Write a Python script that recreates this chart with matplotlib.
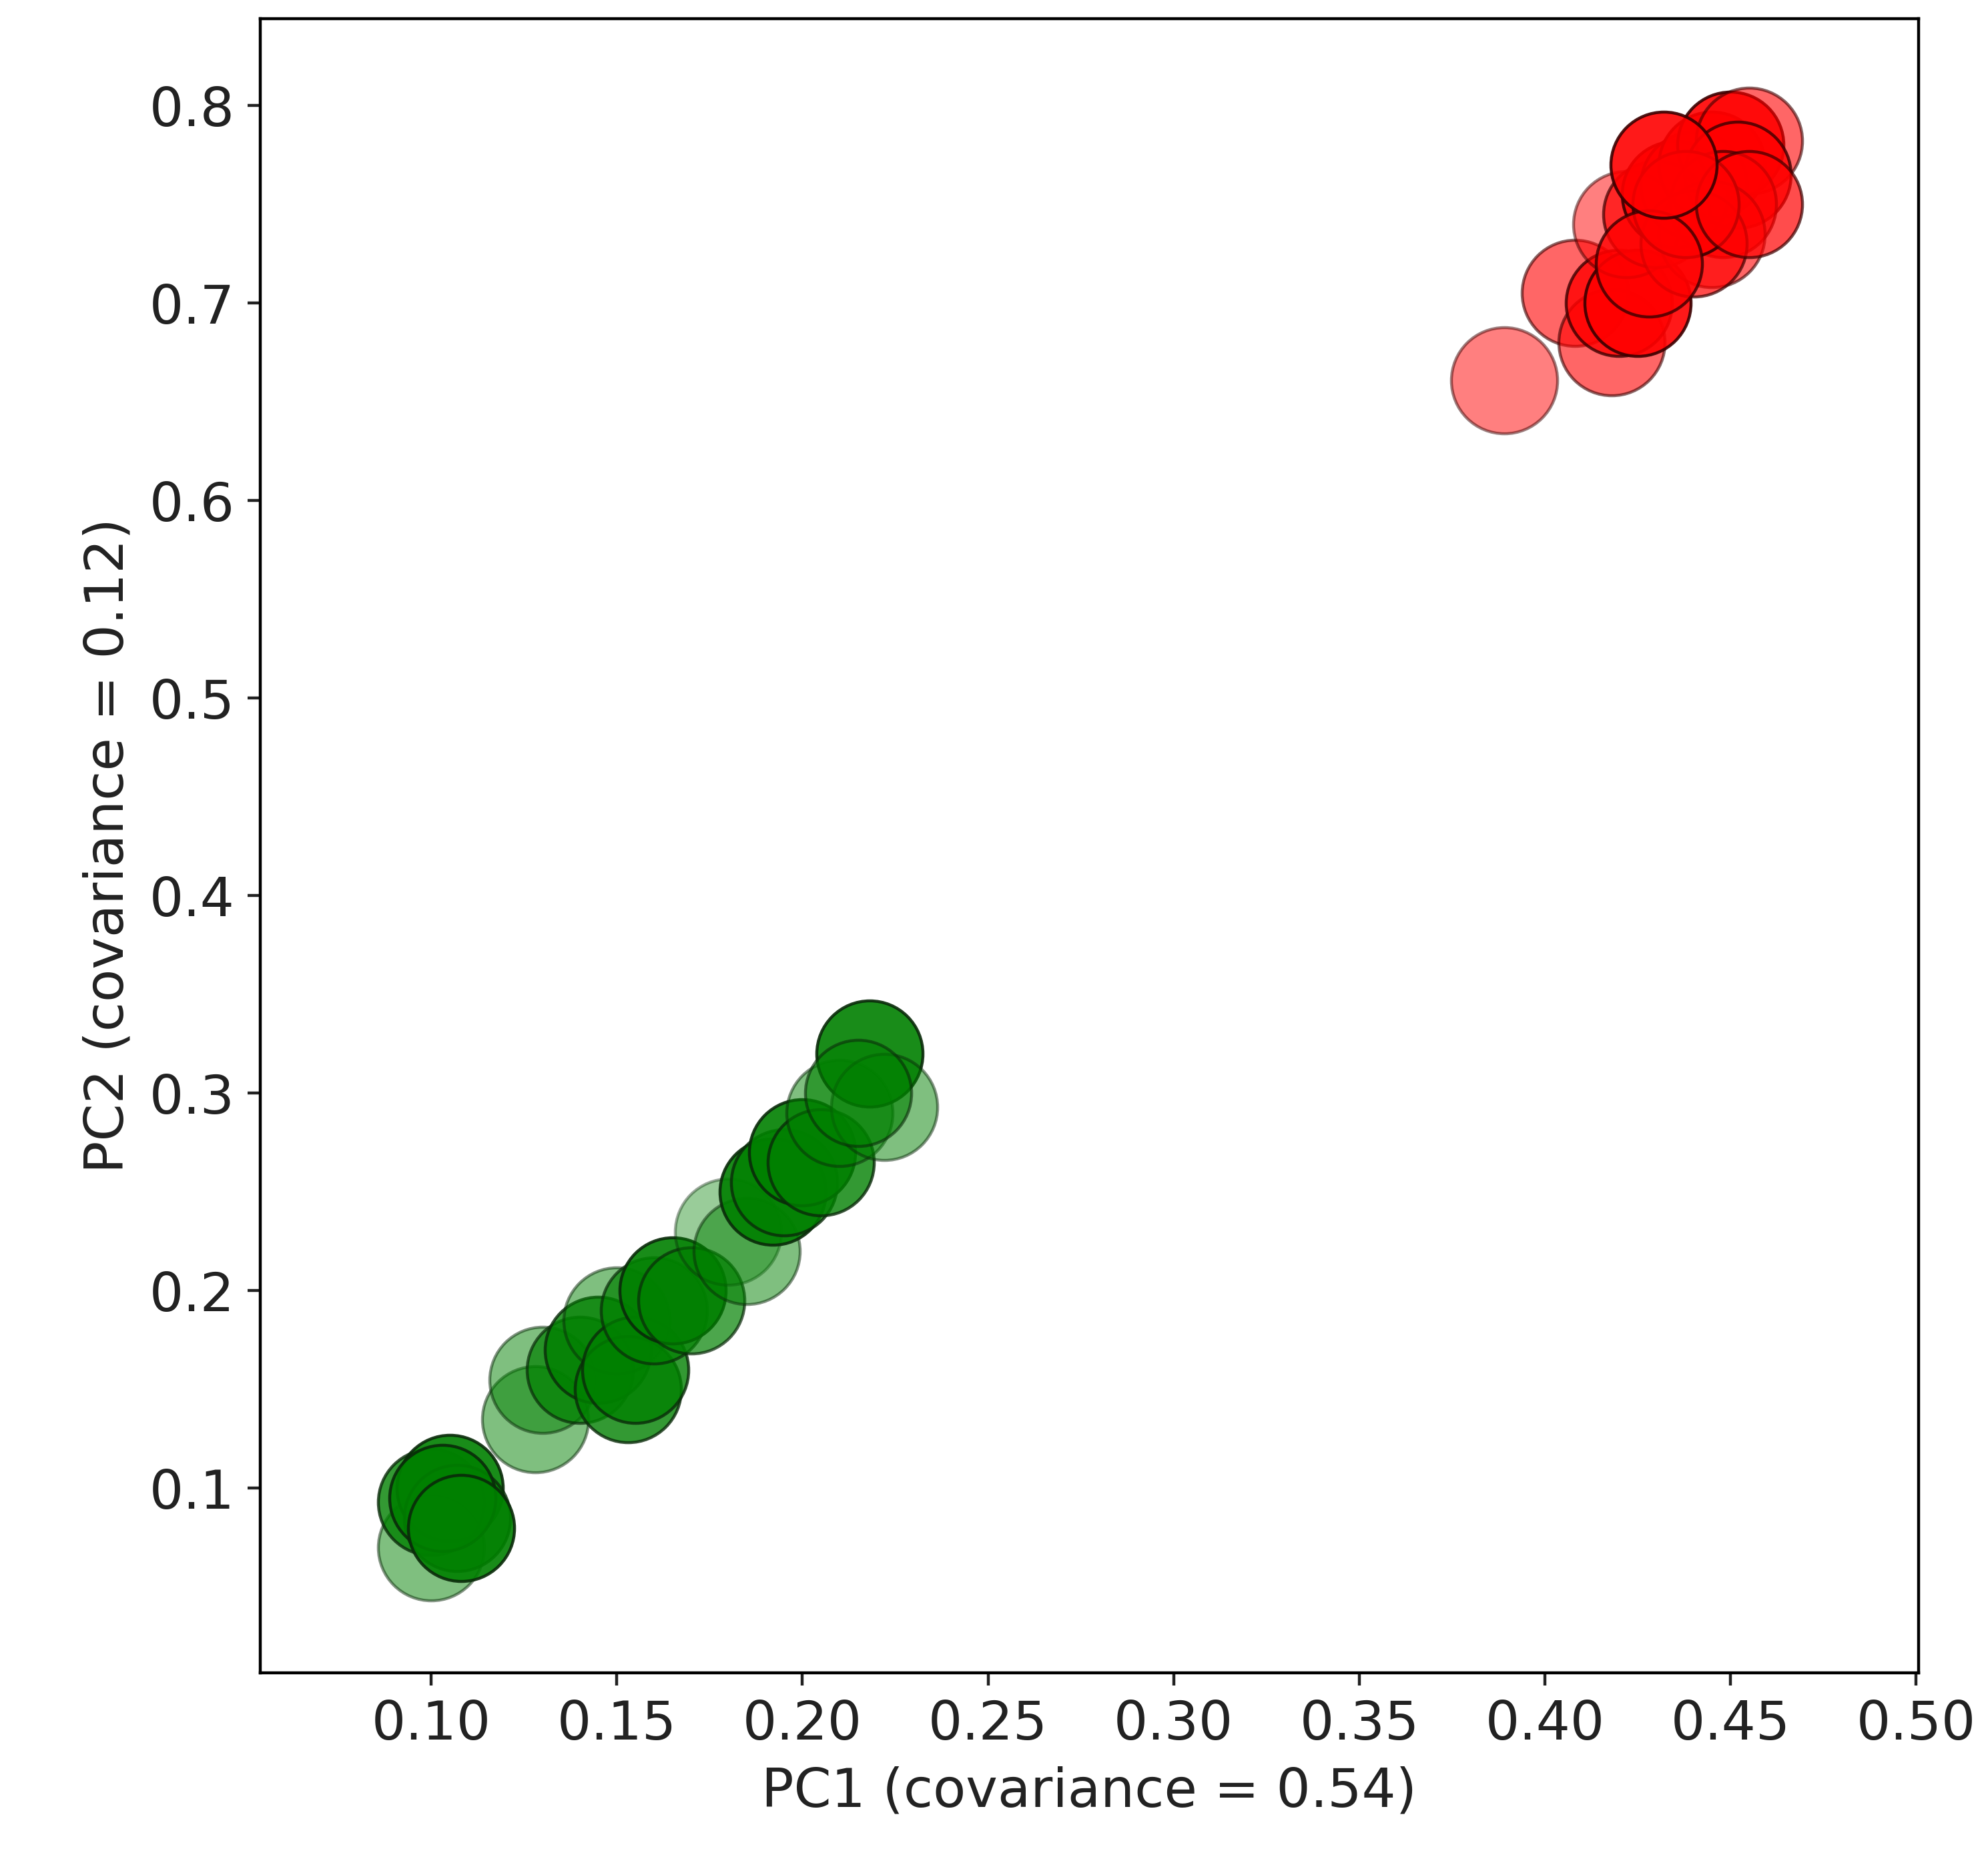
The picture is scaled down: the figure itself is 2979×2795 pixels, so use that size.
import matplotlib.pyplot as plt

# green cluster
green_x = [0.100, 0.100, 0.105, 0.107, 0.103, 0.108, 0.128, 0.130, 0.140, 0.145, 0.150, 0.153, 0.155,
           0.160, 0.165, 0.170, 0.180, 0.185, 0.192, 0.195, 0.200, 0.205, 0.210, 0.218, 0.222, 0.215]
green_y = [0.070, 0.093, 0.100, 0.085, 0.095, 0.080, 0.135, 0.155, 0.160, 0.170, 0.185, 0.150, 0.160,
           0.190, 0.200, 0.195, 0.230, 0.220, 0.250, 0.255, 0.270, 0.265, 0.290, 0.320, 0.293, 0.300]
green_a = [0.5, 0.8, 0.9, 0.8, 0.9, 0.9, 0.5, 0.5, 0.7, 0.8, 0.5, 0.8, 0.8,
           0.7, 0.9, 0.7, 0.4, 0.5, 0.9, 0.8, 0.9, 0.8, 0.5, 0.9, 0.5, 0.6]

# red cluster
red_x = [0.389, 0.408, 0.418, 0.420, 0.425, 0.422, 0.430, 0.435, 0.440, 0.445, 0.450, 0.455,
         0.452, 0.448, 0.445, 0.440, 0.438, 0.455, 0.428, 0.432]
red_y = [0.661, 0.705, 0.680, 0.700, 0.700, 0.740, 0.745, 0.755, 0.760, 0.770, 0.780, 0.782,
         0.765, 0.750, 0.735, 0.730, 0.750, 0.750, 0.720, 0.770]
red_a = [0.5, 0.6, 0.6, 0.8, 0.9, 0.5, 0.7, 0.9, 0.8, 0.9, 0.9, 0.6,
         0.8, 0.7, 0.6, 0.7, 0.9, 0.7, 0.8, 0.9]

fig = plt.figure(figsize=(7.4475, 6.9875), dpi=400)
ax = fig.add_axes([0.131, 0.103, 0.834, 0.887])

for x, y, a in zip(green_x, green_y, green_a):
    ax.scatter(x, y, s=820, color='green', edgecolors='#0a2a0a', alpha=a, linewidths=0.8)
for x, y, a in zip(red_x, red_y, red_a):
    ax.scatter(x, y, s=820, color='red', edgecolors='#3a0000', alpha=a, linewidths=0.8)

ax.set_xlim(0.054, 0.5006)
ax.set_ylim(0.0065, 0.844)
ax.set_xticks([0.10, 0.15, 0.20, 0.25, 0.30, 0.35, 0.40, 0.45, 0.50])
ax.set_xticklabels(['0.10', '0.15', '0.20', '0.25', '0.30', '0.35', '0.40', '0.45', '0.50'])
ax.set_yticks([0.1, 0.2, 0.3, 0.4, 0.5, 0.6, 0.7, 0.8])
ax.tick_params(labelsize=14.5, colors='#222222')
ax.set_xlabel('PC1 (covariance = 0.54)', fontsize=14.5, color='#222222')
ax.set_ylabel('PC2 (covariance = 0.12)', fontsize=14.5, color='#222222')

fig.savefig('out.png')
